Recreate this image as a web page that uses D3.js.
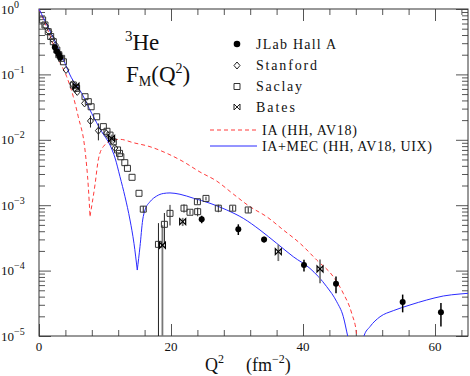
<!DOCTYPE html>
<html>
<head>
<meta charset="utf-8">
<script src="https://cdn.jsdelivr.net/npm/d3@7"></script>
<style>
  body { margin: 0; background: #fff; }
  text { font-family: "Liberation Serif", "DejaVu Serif", serif; fill: #111; }
</style>
</head>
<body>
<div id="plot"></div>
<script>
// Data: [Q2 (fm^-2), F_M, error]
var jlab = [
  [2.4, 0.26, 0.01], [2.7, 0.225, 0.01], [3.0, 0.2, 0.008], [3.2, 0.18, 0.008],
  [24.65, 6.1e-4, 0.8e-4], [30.2, 4.3e-4, 0.8e-4], [34.1, 3.0e-4, 0.3e-4],
  [40.15, 1.22e-4, 0.25e-4], [45.0, 6.3e-5, 1.8e-5], [55.1, 3.3e-5, 1.0e-5],
  [60.9, 2.3e-5, 0.9e-5]
];

var stanford = [
  [1.0, 0.55, 0], [1.5, 0.45, 0], [2.0, 0.35, 0], [2.5, 0.28, 0], [3.0, 0.21, 0],
  [3.3, 0.185, 0], [4.1, 0.117, 0], [5.1, 0.0713, 0], [5.5, 0.06, 0], [5.8, 0.054, 0],
  [6.9, 0.036, 0], [7.8, 0.0194, 0.004], [9.0, 0.0138, 0.004], [10.2, 0.0125, 0],
  [11.1, 0.0096, 0], [11.5, 0.0075, 0]
];

var saclay = [
  [0.55, 0.68, 0], [0.9, 0.57, 0], [1.4, 0.45, 0], [1.77, 0.38, 0], [2.17, 0.316, 0],
  [2.7, 0.236, 0], [3.0, 0.2, 0], [3.43, 0.176, 0], [3.7, 0.156, 0], [5.2, 0.0689, 0],
  [5.7, 0.0612, 0], [6.97, 0.0456, 0], [7.47, 0.0383, 0], [7.9, 0.032, 0],
  [8.74, 0.0225, 0], [9.75, 0.0159, 0], [10.3, 0.0135, 0], [10.76, 0.0118, 0],
  [11.26, 0.0093, 0], [11.9, 0.007, 0], [12.2, 0.0062, 0], [12.4, 0.0055, 0],
  [13.0, 0.00447, 0], [13.4, 0.00366, 0], [14.1, 0.00267, 0], [15.15, 0.00152, 0],
  [15.8, 8.7e-4, 1.0e-4], [18.1, 2.52e-4, 2.8e-4], [19.0, 5.1e-4, 2.5e-4],
  [19.85, 7.5e-4, 2.6e-4], [21.97, 9.0e-4, 1.3e-4], [22.88, 7.8e-4, 0.6e-4],
  [24.0, 1.13e-3, 0.8e-4], [24.04, 7.96e-4, 1.2e-4], [25.3, 1.27e-3, 0.8e-4],
  [27.17, 9.0e-4, 1.2e-4], [29.35, 9.0e-4, 0.8e-4], [31.7, 8.45e-4, 0.8e-4]
];

var bates = [
  [5.6, 0.066, 0.006], [11.0, 0.0105, 0.0015], [18.7, 2.44e-4, 2.5e-4],
  [21.77, 5.6e-4, 0.8e-4], [36.26, 1.95e-4, 0.55e-4], [42.58, 1.06e-4, 0.42e-4]
];

// theory curves: [Q2, |F_M|]
var iaCurve = [
  [0, 1.0], [1.92, 0.336], [2.92, 0.176], [4.2, 0.0922], [5.2, 0.0456], [5.95, 0.0225],
  [6.97, 0.00698], [7.47, 0.00192], [7.73, 6.8e-4], [8.48, 0.00204], [8.98, 0.00491],
  [9.74, 0.00785], [11.26, 0.00993], [12.27, 0.01016], [14.29, 0.00903], [16.82, 0.00784],
  [19.35, 0.00622], [21.86, 0.00463], [24.39, 0.00322], [26.92, 0.00234], [29.44, 0.00148],
  [31.97, 9.48e-4], [34.5, 6.67e-4], [37.02, 4.18e-4], [39.55, 2.61e-4], [42.08, 1.45e-4],
  [44.59, 8.07e-5], [46.1, 4.5e-5], [47.38, 2.22e-5], [48.14, 1.03e-5], [48.6, 1e-6]
];

var mecCurve = [
  [0, 1.0], [3.94, 0.148], [4.7, 0.098], [6.47, 0.0514], [7.98, 0.0254], [9.5, 0.0133],
  [10.76, 0.0083], [11.52, 0.00527], [12.27, 0.00273], [13.03, 0.00135], [13.79, 5.94e-4],
  [14.39, 2.61e-4], [14.89, 1.02e-4], [15.3, 2.32e-4], [15.71, 5.94e-4], [16.06, 8.45e-4],
  [16.82, 1.13e-3], [17.83, 1.38e-3], [18.83, 1.51e-3], [19.85, 1.54e-3], [21.36, 1.47e-3],
  [23.38, 1.28e-3], [25.91, 1.07e-3], [28.44, 8.45e-4], [30.95, 6.3e-4], [33.48, 4.18e-4],
  [36.02, 2.61e-4], [38.53, 1.63e-4], [41.06, 1.08e-4], [43.59, 5.68e-5], [45.11, 3.34e-5],
  [46.11, 1.97e-5], [46.77, 1e-5], [48.5, 2e-6], [49.24, 1e-5], [50.15, 1.39e-5],
  [51.67, 1.97e-5], [53.68, 2.44e-5], [56.21, 2.98e-5], [58.74, 3.55e-5], [61.26, 4.09e-5],
  [63.79, 4.39e-5], [65.1, 4.5e-5]
];

var xMajorTicks = [0, 20, 40, 60];
var xTickLabels = ["0", "20", "40", "60"];
var yExponents = [0, -1, -2, -3, -4, -5];

var legendLabels = ["JLab Hall A", "Stanford", "Saclay", "Bates"];
var curveLabels = ["IA (HH, AV18)", "IA+MEC (HH, AV18, UIX)"];

// SVG area
var svgWidth = 470;
var svgHeight = 376;
var plot = { left: 39, right: 468, top: 9, bottom: 336 };

var svg = d3.select("#plot")
  .append("svg")
  .attr("width", svgWidth)
  .attr("height", svgHeight);

var x = d3.scaleLinear().domain([0, 65]).range([plot.left, plot.right]);
var y = d3.scaleLog().domain([1e-5, 1]).range([plot.bottom, plot.top]);

svg.append("clipPath").attr("id", "clip")
  .append("rect")
  .attr("x", plot.left).attr("y", plot.top)
  .attr("width", plot.right - plot.left).attr("height", plot.bottom - plot.top);

// minor / major tick values
var xMinor = d3.range(0, 66, 4).filter(d => xMajorTicks.indexOf(d) < 0);
var yMinor = [];
yExponents.slice(1).forEach(function(e) {
  for (var k = 2; k <= 9; k++) yMinor.push(k * Math.pow(10, e));
});
var yMajor = yExponents.map(e => Math.pow(10, e));

function tickAxis(axisFn, scale, values, size, tx, ty) {
  svg.append("g")
    .attr("transform", `translate(${tx}, ${ty})`)
    .call(axisFn(scale).tickValues(values).tickSize(size).tickFormat(""))
    .call(g => g.select(".domain").remove())
    .selectAll("line").attr("stroke", "#555");
}

// bottom & top
tickAxis(d3.axisBottom, x, xMajorTicks, -12, 0, plot.bottom);
tickAxis(d3.axisBottom, x, xMinor, -6, 0, plot.bottom);
tickAxis(d3.axisTop, x, xMajorTicks, -12, 0, plot.top);
tickAxis(d3.axisTop, x, xMinor, -6, 0, plot.top);
// left & right
tickAxis(d3.axisLeft, y, yMajor, -12, plot.left, 0);
tickAxis(d3.axisLeft, y, yMinor, -6, plot.left, 0);
tickAxis(d3.axisRight, y, yMajor, -12, plot.right, 0);
tickAxis(d3.axisRight, y, yMinor, -6, plot.right, 0);

// frame
svg.append("rect")
  .attr("x", plot.left).attr("y", plot.top)
  .attr("width", plot.right - plot.left).attr("height", plot.bottom - plot.top)
  .attr("fill", "none")
  .attr("stroke", "#333")
  .attr("stroke-width", 1);

// x tick labels
svg.selectAll(".xlab")
  .data(xMajorTicks)
  .enter()
  .append("text")
  .attr("x", d => x(d))
  .attr("y", plot.bottom + 15)
  .attr("text-anchor", "middle")
  .style("font-size", "13px")
  .text((d, i) => xTickLabels[i]);

// y tick labels 10^n
var ylab = svg.selectAll(".ylab")
  .data(yExponents)
  .enter()
  .append("text")
  .attr("x", 1)
  .attr("y", d => y(Math.pow(10, d)) + 4.5)
  .style("font-size", "13px");
ylab.append("tspan").text("10");
ylab.append("tspan")
  .attr("dy", -6)
  .style("font-size", "10px")
  .text(d => d === 0 ? "0" : "\u2212" + Math.abs(d));

// x axis label
var xl = svg.append("text").attr("x", 205).attr("y", 371).style("font-size", "18px");
xl.append("tspan").text("Q");
xl.append("tspan").attr("dy", -8).style("font-size", "12px").text("2");
xl.append("tspan").attr("x", 246).attr("dy", 8).text("(fm");
xl.append("tspan").attr("dy", -8).style("font-size", "12px").text("\u22122");
xl.append("tspan").attr("dy", 8).text(")");

// title
var t1 = svg.append("text").attr("x", 125).attr("y", 50).style("font-size", "23px");
t1.append("tspan").attr("dy", -9).style("font-size", "15px").text("3");
t1.append("tspan").attr("dy", 9).text("He");
var t2 = svg.append("text").attr("x", 126).attr("y", 82).style("font-size", "23px");
t2.append("tspan").text("F");
t2.append("tspan").attr("dy", 4).style("font-size", "14px").text("M");
t2.append("tspan").attr("dy", -4).text("(Q");
t2.append("tspan").attr("dy", -9).style("font-size", "14px").text("2");
t2.append("tspan").attr("dy", 9).text(")");

// theory curves, split at the sign changes so the dips stay sharp
function splitAtDips(pts) {
  var segs = [], cur = [pts[0]];
  for (var i = 1; i < pts.length; i++) {
    cur.push(pts[i]);
    if (i < pts.length - 1 && pts[i][1] < pts[i - 1][1] && pts[i][1] < pts[i + 1][1]) {
      segs.push(cur);
      cur = [pts[i]];
    }
  }
  segs.push(cur);
  return segs;
}

var drawLine = d3.line()
  .x(d => x(d[0]))
  .y(d => y(d[1]))
  .curve(d3.curveMonotoneX);

var curves = svg.append("g").attr("clip-path", "url(#clip)");

splitAtDips(iaCurve).forEach(function(seg) {
  curves.append("path")
    .attr("d", drawLine(seg))
    .attr("fill", "none")
    .attr("stroke", "#ff3b3b")
    .attr("stroke-width", 1)
    .attr("stroke-dasharray", "4,3");
});
splitAtDips(mecCurve).forEach(function(seg) {
  curves.append("path")
    .attr("d", drawLine(seg))
    .attr("fill", "none")
    .attr("stroke", "#2b2bff")
    .attr("stroke-width", 1);
});

// error bars
var marks = svg.append("g").attr("clip-path", "url(#clip)");

function errorBars(data, color, width) {
  marks.selectAll(null)
    .data(data.filter(d => d[2] > 0))
    .enter()
    .append("line")
    .attr("x1", d => x(d[0]))
    .attr("x2", d => x(d[0]))
    .attr("y1", d => y(d[1] + d[2]))
    .attr("y2", d => y(Math.max(d[1] - d[2], 1e-7)))
    .attr("stroke", color)
    .attr("stroke-width", width);
}
errorBars(saclay, "#222", 1);
errorBars(stanford, "#222", 1);
errorBars(bates, "#777", 1.8);
errorBars(jlab, "#000", 1.5);

// symbols
var squarePath = "M-3,-3H3V3H-3Z";
var diamondPath = "M0,-3.5L3,0L0,3.5L-3,0Z";
var bowtiePath = "M-3,-3L3,3V-3L-3,3Z";

marks.selectAll(null)
  .data(saclay)
  .enter()
  .append("path")
  .attr("d", squarePath)
  .attr("transform", d => `translate(${x(d[0])}, ${y(d[1])})`)
  .attr("fill", "none")
  .attr("stroke", "#333")
  .attr("stroke-width", 1);

marks.selectAll(null)
  .data(stanford)
  .enter()
  .append("path")
  .attr("d", diamondPath)
  .attr("transform", d => `translate(${x(d[0])}, ${y(d[1])})`)
  .attr("fill", "none")
  .attr("stroke", "#222")
  .attr("stroke-width", 1);

marks.selectAll(null)
  .data(bates)
  .enter()
  .append("path")
  .attr("d", bowtiePath)
  .attr("transform", d => `translate(${x(d[0])}, ${y(d[1])})`)
  .attr("fill", "none")
  .attr("stroke", "#000")
  .attr("stroke-width", 1.2);

marks.selectAll(null)
  .data(jlab)
  .enter()
  .append("circle")
  .attr("cx", d => x(d[0]))
  .attr("cy", d => y(d[1]))
  .attr("r", 3)
  .attr("fill", "#000");

// legend
var legendY = [44, 65.5, 86.5, 107];
var legendWidths = [80, 61, 46, 39];
var legend = svg.append("g");
legend.append("circle").attr("cx", 237).attr("cy", legendY[0]).attr("r", 3.3).attr("fill", "#000");
legend.append("path").attr("d", diamondPath).attr("transform", `translate(237, ${legendY[1]})`)
  .attr("fill", "none").attr("stroke", "#222");
legend.append("path").attr("d", squarePath).attr("transform", `translate(237, ${legendY[2]})`)
  .attr("fill", "none").attr("stroke", "#333");
legend.append("path").attr("d", bowtiePath).attr("transform", `translate(237, ${legendY[3]})`)
  .attr("fill", "none").attr("stroke", "#222");

legend.selectAll(".ltext")
  .data(legendLabels)
  .enter()
  .append("text")
  .attr("x", 256)
  .attr("y", (d, i) => legendY[i] + 4.5)
  .attr("textLength", (d, i) => legendWidths[i])
  .attr("lengthAdjust", "spacing")
  .style("font-size", "14px")
  .text(d => d);

var curveY = [130, 146];
var curveWidths = [95, 170];
legend.append("line").attr("x1", 210).attr("x2", 257).attr("y1", curveY[0]).attr("y2", curveY[0])
  .attr("stroke", "#ff3b3b").attr("stroke-dasharray", "4,3");
legend.append("line").attr("x1", 210).attr("x2", 257).attr("y1", curveY[1]).attr("y2", curveY[1])
  .attr("stroke", "#2b2bff");
legend.selectAll(".ctext")
  .data(curveLabels)
  .enter()
  .append("text")
  .attr("x", 262)
  .attr("y", (d, i) => curveY[i] + 5)
  .attr("textLength", (d, i) => curveWidths[i])
  .attr("lengthAdjust", "spacing")
  .style("font-size", "14px")
  .text(d => d);
</script>
</body>
</html>
